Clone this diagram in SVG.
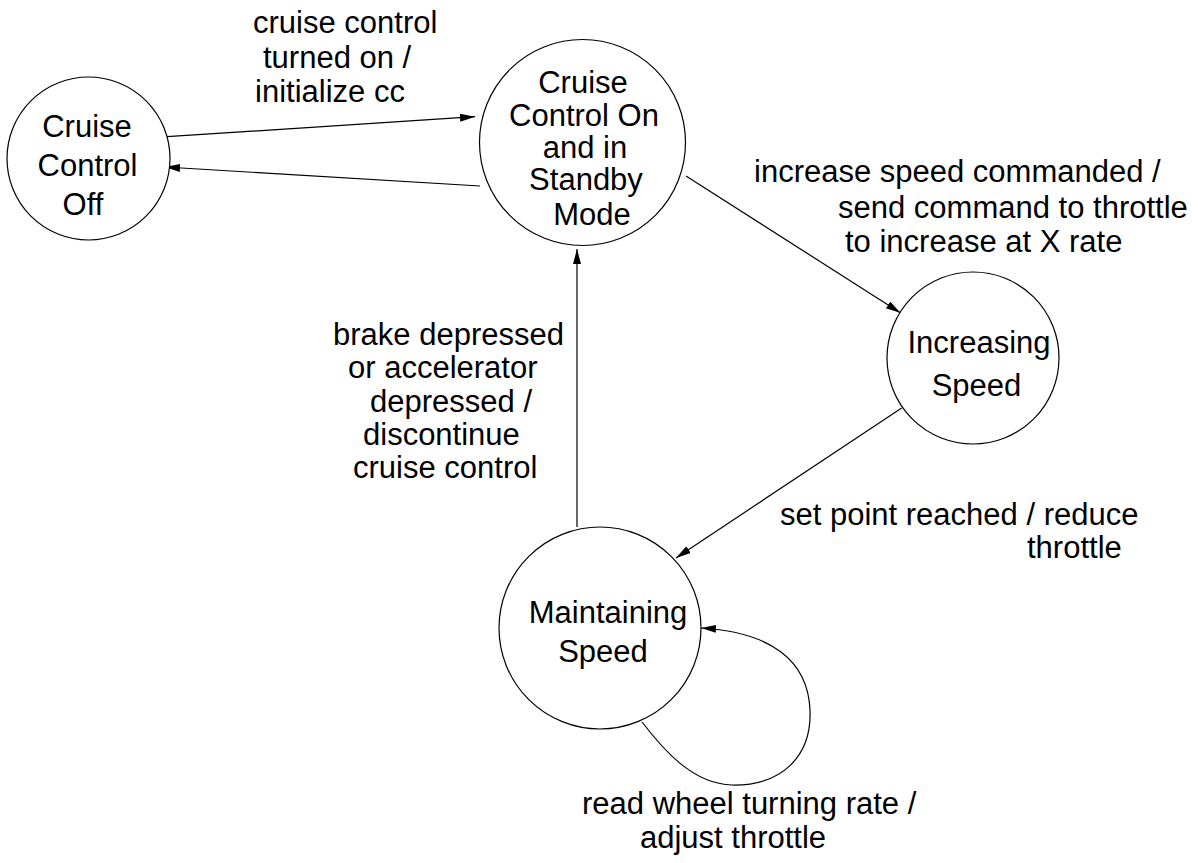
<svg xmlns="http://www.w3.org/2000/svg" width="1198" height="863" viewBox="0 0 1198 863">
<style>
.st{fill:#fff;stroke:#000;stroke-width:1.2}
.t{font-family:"Liberation Sans",Arial,sans-serif;font-size:31px;fill:#000}
.c{text-anchor:middle}
.e{fill:none;stroke:#000;stroke-width:1.2}
</style>
<defs>
<marker id="ah" markerUnits="userSpaceOnUse" markerWidth="16" markerHeight="10" refX="15" refY="4" orient="auto">
<path d="M0,0 L15,4 L0,8 z" fill="#000"/>
</marker>
</defs>
<rect width="1198" height="863" fill="#fff"/>
<g id="edges">
<line class="e" x1="167" y1="136.7" x2="475" y2="116.7" marker-end="url(#ah)"/>
<line class="e" x1="480" y1="186" x2="165" y2="167" marker-end="url(#ah)"/>
<line class="e" x1="686" y1="176" x2="900.7" y2="313" marker-end="url(#ah)"/>
<line class="e" x1="901.7" y1="408" x2="676" y2="558" marker-end="url(#ah)"/>
<line class="e" x1="577" y1="527" x2="577" y2="249" marker-end="url(#ah)"/>
<path class="e" d="M642,722 C662,748 692,784 732,785 C782,786 812,756 810,710 C808,660 770,632 701,628" marker-end="url(#ah)"/>
<text class="t" x="253" y="33">cruise control</text>
<text class="t" x="263" y="68">turned on /</text>
<text class="t" x="255" y="102">initialize cc</text>
<text class="t" x="754" y="182">increase speed commanded /</text>
<text class="t" x="838" y="218">send command to throttle</text>
<text class="t" x="845" y="252">to increase at X rate</text>
<text class="t" x="333" y="345">brake depressed</text>
<text class="t" x="348" y="378">or accelerator</text>
<text class="t" x="370" y="412">depressed /</text>
<text class="t" x="363" y="445">discontinue</text>
<text class="t" x="353" y="478">cruise control</text>
<text class="t" x="780" y="525">set point reached / reduce</text>
<text class="t" x="1027" y="558">throttle</text>
<text class="t" x="582" y="814">read wheel turning rate /</text>
<text class="t" x="640" y="848">adjust throttle</text>
</g>
<g id="off">
<circle class="st" cx="88.5" cy="158.5" r="81.5"/>
<text class="t c" x="87" y="137">Cruise</text>
<text class="t c" x="87.5" y="176">Control</text>
<text class="t c" x="83" y="215">Off</text>
</g>
<g id="standby">
<circle class="st" cx="582.5" cy="142.5" r="103"/>
<text class="t c" x="583" y="93">Cruise</text>
<text class="t c" x="584" y="126">Control On</text>
<text class="t c" x="585" y="158">and in</text>
<text class="t c" x="586" y="190">Standby</text>
<text class="t c" x="592" y="225">Mode</text>
</g>
<g id="increasing">
<circle class="st" cx="973" cy="358" r="86"/>
<text class="t c" x="979" y="353">Increasing</text>
<text class="t c" x="976.5" y="396">Speed</text>
</g>
<g id="maintaining">
<circle class="st" cx="600" cy="628" r="101"/>
<text class="t c" x="608" y="623">Maintaining</text>
<text class="t c" x="603" y="662">Speed</text>
</g>
</svg>
